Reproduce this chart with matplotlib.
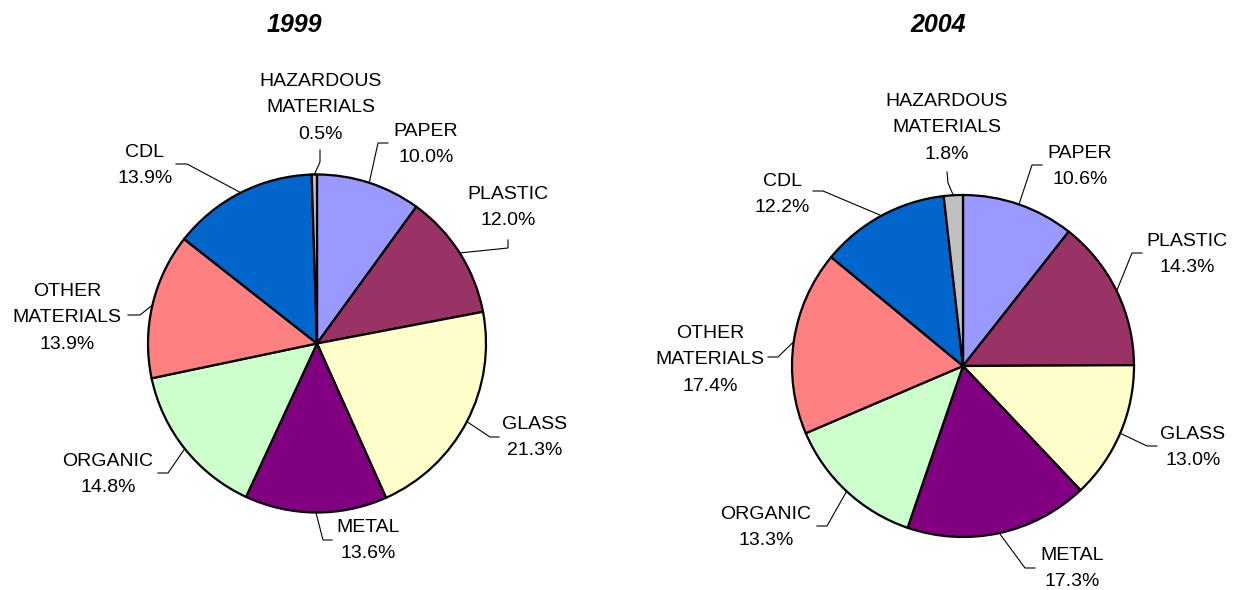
import matplotlib.pyplot as plt
import numpy as np

plt.rcParams['font.family'] = ['Liberation Sans', 'DejaVu Sans']

# Waste composition, clockwise from 12 o'clock
categories = ['PAPER', 'PLASTIC', 'GLASS', 'METAL', 'ORGANIC',
              'OTHER\nMATERIALS', 'CDL', 'HAZARDOUS\nMATERIALS']
years = ['1999', '2004']
share_1999 = [10.0, 12.0, 21.3, 13.6, 14.8, 13.9, 13.9, 0.5]
share_2004 = [10.6, 14.3, 13.0, 17.3, 13.3, 17.4, 12.2, 1.8]
colors = ['#9999FF', '#993366', '#FFFFCC', '#800080',
          '#CCFFCC', '#FF8080', '#0066CC', '#C0C0C0']

W, H = 1233, 590
LINE_STEP = 26.3  # px between label baselines

# layout in pixels, y measured from the top edge
centers = [(317, 343.5), (963, 366)]
radii = [169, 171]
title_pos = [(294, 32), (938, 32)]

# (text centre x, first baseline y, elbow x, elbow y, end x, end y)
layout_1999 = [
    (426, 136, 378, 143, 388, 143),
    (508, 199, 508, 248, 508, 240),
    (535, 429, 490, 437, 499, 437),
    (368, 532, 323, 540, 332, 540),
    (108, 466, 168, 473, 158, 473),
    (67, 296, 140, 315, 128, 315),
    (145, 157, 187, 164, 176, 164),
    (320.5, 86, 320, 162, 320, 150),
]
layout_2004 = [
    (1080, 158, 1032, 165, 1042, 165),
    (1187, 246, 1132, 253, 1142, 253),
    (1193, 439, 1147, 446, 1157, 446),
    (1072, 560, 1025, 568, 1035, 568),
    (766, 519, 827, 526, 817, 526),
    (710, 338, 778, 357, 768, 357),
    (782, 186, 823, 191, 813, 191),
    (947, 106, 948, 183, 947, 172),
]

fig = plt.figure(figsize=(W / 100, H / 100), dpi=100)
ax = fig.add_axes([0, 0, 1, 1])

for year, shares, layout, (cx, cy), r, (tx, ty) in zip(
        years, [share_1999, share_2004], [layout_1999, layout_2004],
        centers, radii, title_pos):
    cy = H - cy
    wedges, _ = ax.pie(shares, colors=colors, startangle=90, counterclock=False,
                       center=(cx, cy), radius=r,
                       wedgeprops=dict(edgecolor='black', linewidth=1.6))

    ax.text(tx, H - ty, year, ha='center', va='baseline',
            fontsize=18, fontweight='bold', fontstyle='italic')

    for w, name, val, (lx, ly, ex, ey, kx, ky) in zip(wedges, categories, shares, layout):
        # leader line: wedge rim -> elbow -> label
        ang = np.deg2rad((w.theta1 + w.theta2) / 2)
        sx, sy = cx + r * np.cos(ang), cy + r * np.sin(ang)
        ax.plot([sx, ex, kx], [sy, H - ey, H - ky], color='black', lw=0.8,
                solid_joinstyle='miter')

        lines = name.split('\n') + [f'{val:.1f}%']
        for i, line in enumerate(lines):
            ax.text(lx, H - (ly + i * LINE_STEP), line, ha='center',
                    va='baseline', fontsize=14)

ax.set_xlim(0, W)
ax.set_ylim(0, H)
ax.set_aspect('equal')
ax.axis('off')

fig.savefig('out.png', dpi=100)
